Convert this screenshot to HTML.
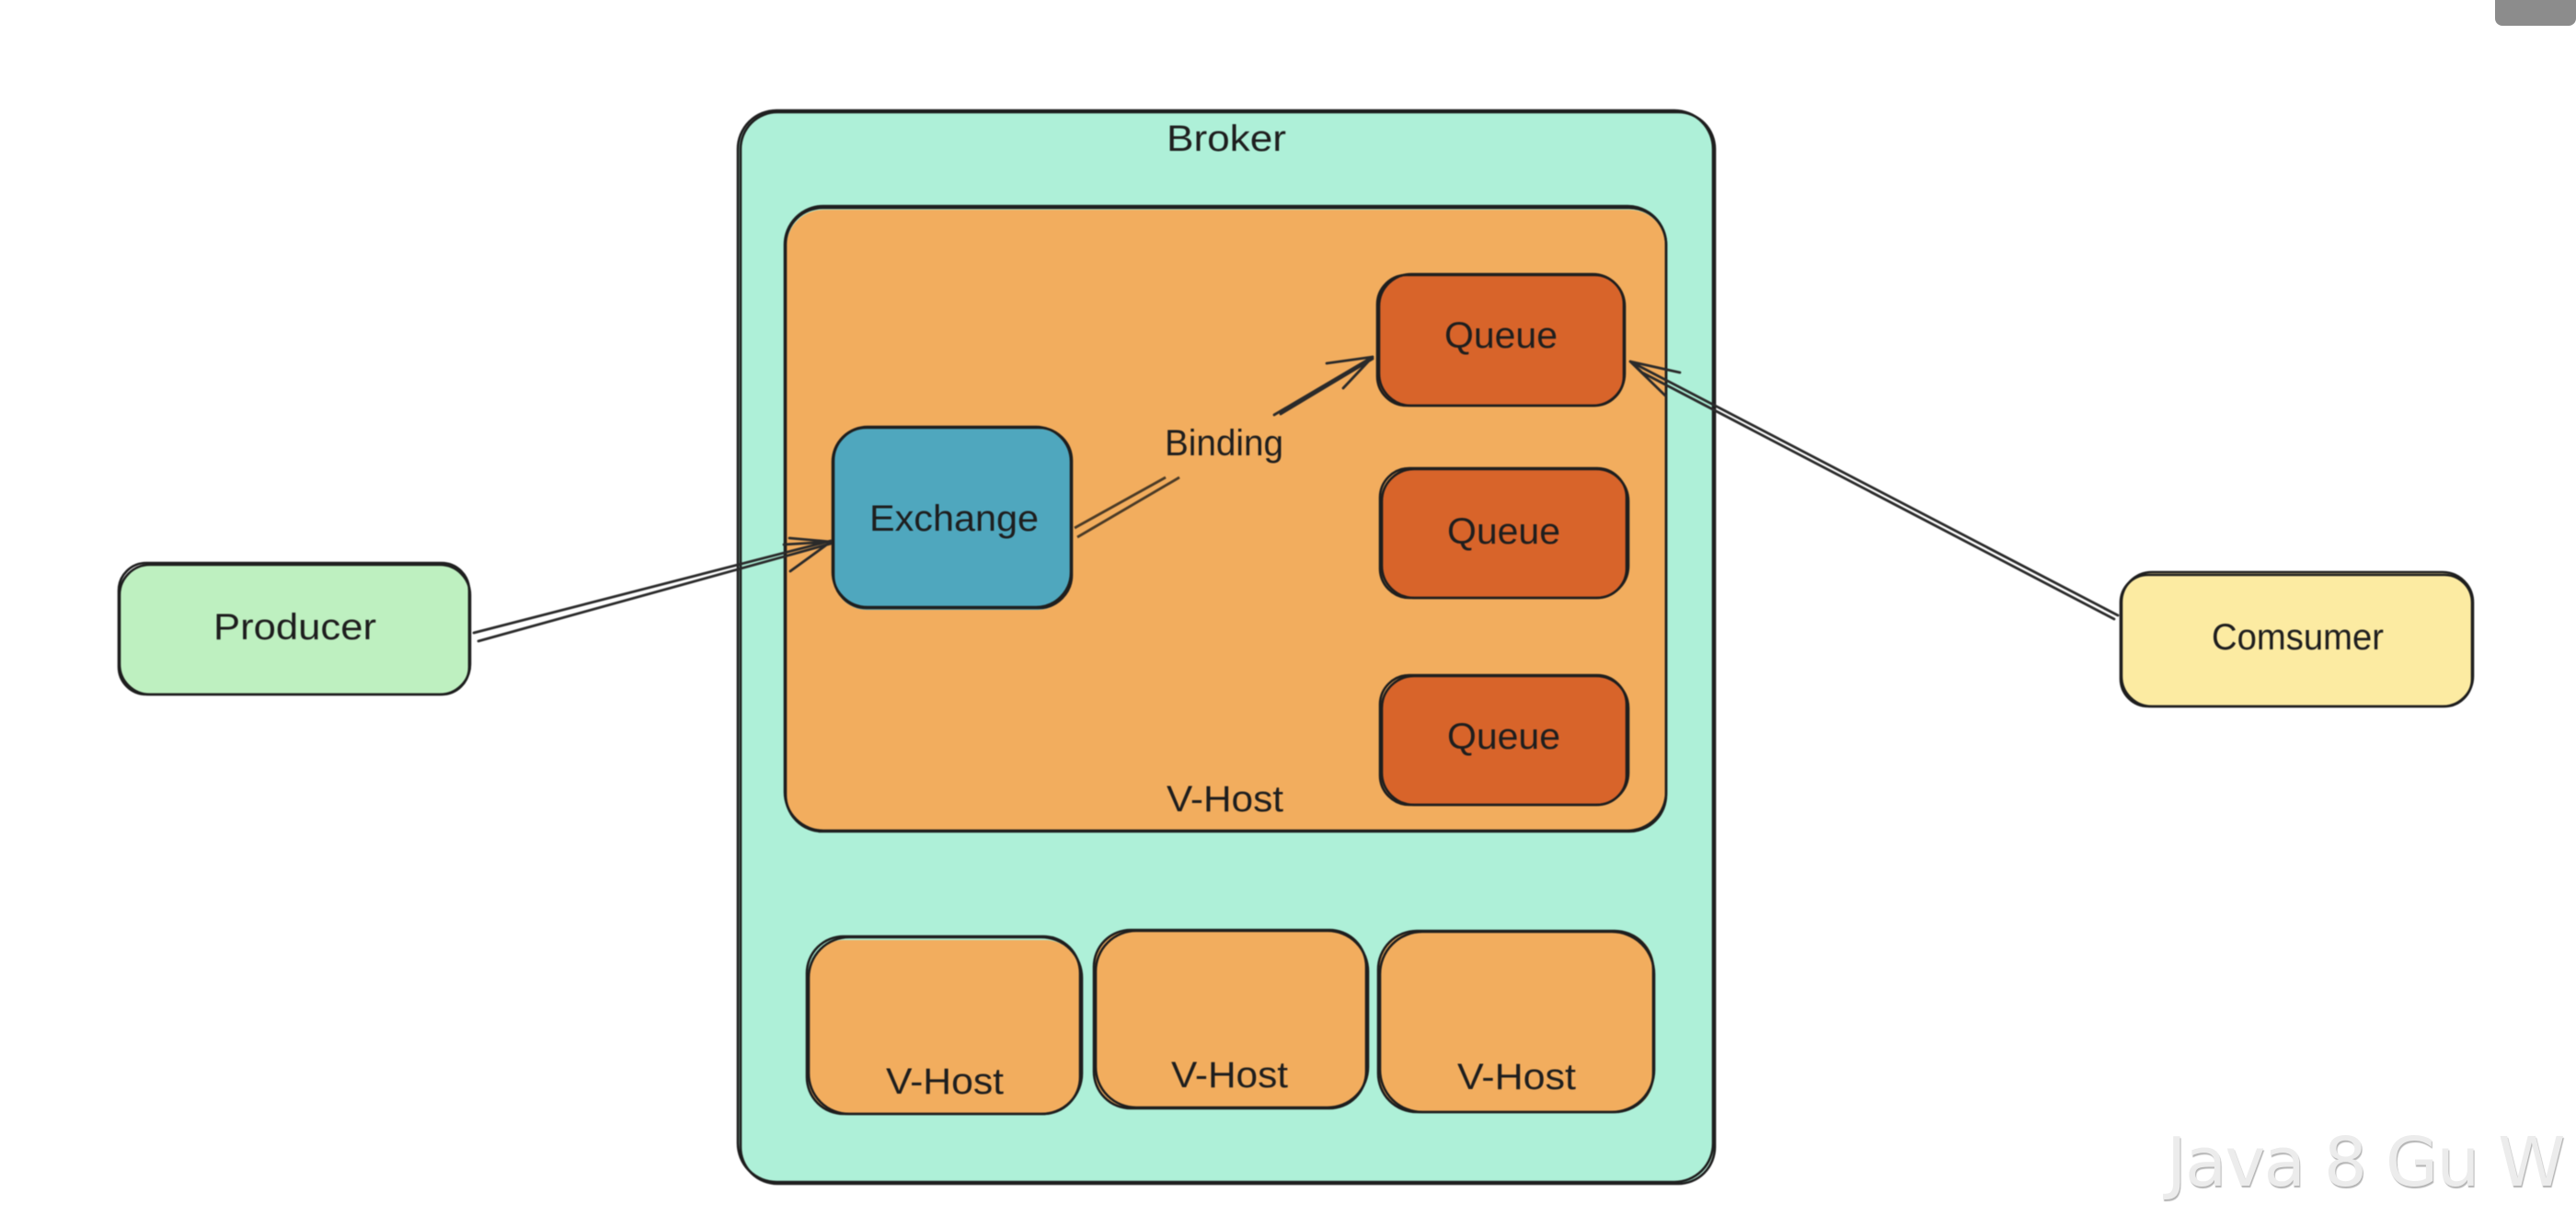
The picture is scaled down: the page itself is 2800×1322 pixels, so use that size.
<!DOCTYPE html>
<html lang="en">
<head>
<meta charset="utf-8">
<title>Broker diagram</title>
<style>
html,body{margin:0;padding:0;background:#fff;width:2800px;height:1322px;overflow:hidden}
svg{position:absolute;left:0;top:0;filter:blur(.6px)}
text{font-family:"Liberation Sans",sans-serif;font-size:40px;fill:#1e1e1e}
.s{fill:none;stroke:#1e1e1e;stroke-width:2.6}
.a{fill:none;stroke:#2a2a2a;stroke-width:2.8;stroke-linecap:round}
#wm{position:absolute;left:2355px;top:1218px;font-family:"DejaVu Sans",sans-serif;font-size:74px;line-height:92px;color:#ececec;white-space:nowrap;text-shadow:1px 2px 1px #b4b4b4;letter-spacing:-1.8px}
#tab{position:absolute;left:2712px;top:-10px;width:88px;height:38px;background:#8c8c8c;border-radius:8px}
</style>
</head>
<body>
<svg width="2800" height="1322" viewBox="0 0 2800 1322" xmlns="http://www.w3.org/2000/svg">
  <!-- Broker -->
  <rect x="803" y="121" width="1060" height="1166" rx="42" fill="#aef0d8"/>
  <rect class="s" x="802" y="120" width="1060" height="1165" rx="42"/>
  <rect class="s" x="805" y="122" width="1059" height="1165" rx="40"/>

  <!-- Main V-Host -->
  <rect x="855" y="228" width="956" height="676" rx="40" fill="#f2ad5e"/>
  <rect class="s" x="853" y="224" width="958" height="679" rx="42"/>
  <rect class="s" x="854" y="226" width="957" height="678" rx="40"/>

  <!-- Exchange -->
  <rect x="906" y="466" width="258" height="197" rx="36" fill="#4fa7be"/>
  <rect class="s" x="905" y="464" width="259" height="196" rx="38"/>
  <rect class="s" x="906" y="465" width="259" height="196" rx="36"/>

  <!-- Queues -->
  <rect x="1498" y="298" width="268" height="143" rx="32" fill="#d8642a"/>
  <rect class="s" x="1497" y="299" width="268" height="142" rx="32"/>
  <rect class="s" x="1499" y="298" width="267" height="143" rx="35"/>

  <rect x="1502" y="510" width="267" height="140" rx="32" fill="#d8642a"/>
  <rect class="s" x="1500" y="509" width="268" height="141" rx="32"/>
  <rect class="s" x="1502" y="510" width="268" height="140" rx="35"/>

  <rect x="1502" y="735" width="267" height="140" rx="32" fill="#d8642a"/>
  <rect class="s" x="1500" y="734" width="268" height="141" rx="32"/>
  <rect class="s" x="1502" y="735" width="268" height="140" rx="35"/>

  <!-- Producer -->
  <rect x="131" y="614" width="380" height="142" rx="30" fill="#bef0c0"/>
  <rect class="s" x="129" y="612" width="381" height="143" rx="30"/>
  <rect class="s" x="130" y="614" width="381" height="141" rx="33"/>

  <!-- Consumer -->
  <rect x="2306" y="622" width="382" height="146" rx="30" fill="#fceba2"/>
  <rect class="s" x="2305" y="625" width="382" height="143" rx="30"/>
  <rect class="s" x="2306" y="622" width="382" height="146" rx="33"/>

  <!-- Bottom V-Hosts -->
  <rect x="879" y="1022" width="295" height="189" rx="38" fill="#f2ad5e"/>
  <rect class="s" x="877" y="1018" width="297" height="193" rx="40"/>
  <rect class="s" x="879" y="1019" width="297" height="192" rx="44"/>

  <rect x="1189" y="1012" width="296" height="192" rx="38" fill="#f2ad5e"/>
  <rect class="s" x="1189" y="1011" width="296" height="194" rx="40"/>
  <rect class="s" x="1191" y="1012" width="296" height="192" rx="44"/>

  <rect x="1499" y="1012" width="299" height="197" rx="40" fill="#f2ad5e"/>
  <rect class="s" x="1498" y="1012" width="299" height="197" rx="42"/>
  <rect class="s" x="1500" y="1013" width="298" height="196" rx="46"/>

  <!-- Producer to Exchange -->
  <path class="a" d="M515 688 L903 588 M520 697 L903 591 M858 585 L903 589 M852 592 L903 589 M859 621 L903 589"/>
  <!-- Exchange to Binding to Queue -->
  <path class="a" style="stroke-linecap:butt;stroke:#4a3a26" d="M1168 574 L1267 519 M1171 584 L1282 519"/>
  <path class="a" d="M1385 451 L1492 388 M1392 450 L1492 390 M1442 395 L1492 388 M1460 422 L1492 388"/>
  <!-- Consumer to Queue -->
  <path class="a" d="M2302 669 L1772 393 M2298 673 L1785 405 L1772 393 M1826 405 L1772 393 M1810 430 L1772 393"/>

  <!-- Labels -->
  <text x="1268" y="164" textLength="130" lengthAdjust="spacingAndGlyphs">Broker</text>
  <text x="945" y="577" textLength="184" lengthAdjust="spacingAndGlyphs">Exchange</text>
  <text x="1570" y="378" textLength="123" lengthAdjust="spacingAndGlyphs">Queue</text>
  <text x="1573" y="591" textLength="123" lengthAdjust="spacingAndGlyphs">Queue</text>
  <text x="1573" y="814" textLength="123" lengthAdjust="spacingAndGlyphs">Queue</text>
  <text x="1266" y="495" textLength="129" lengthAdjust="spacingAndGlyphs">Binding</text>
  <text x="1268" y="882" textLength="127" lengthAdjust="spacingAndGlyphs">V-Host</text>
  <text x="232" y="695" textLength="177" lengthAdjust="spacingAndGlyphs">Producer</text>
  <text x="2404" y="706" textLength="187" lengthAdjust="spacingAndGlyphs">Comsumer</text>
  <text x="963" y="1189" textLength="128" lengthAdjust="spacingAndGlyphs">V-Host</text>
  <text x="1273" y="1182" textLength="127" lengthAdjust="spacingAndGlyphs">V-Host</text>
  <text x="1584" y="1184" textLength="129" lengthAdjust="spacingAndGlyphs">V-Host</text>
</svg>
<div id="tab"></div>
<div id="wm">Java 8 Gu W</div>
</body>
</html>
